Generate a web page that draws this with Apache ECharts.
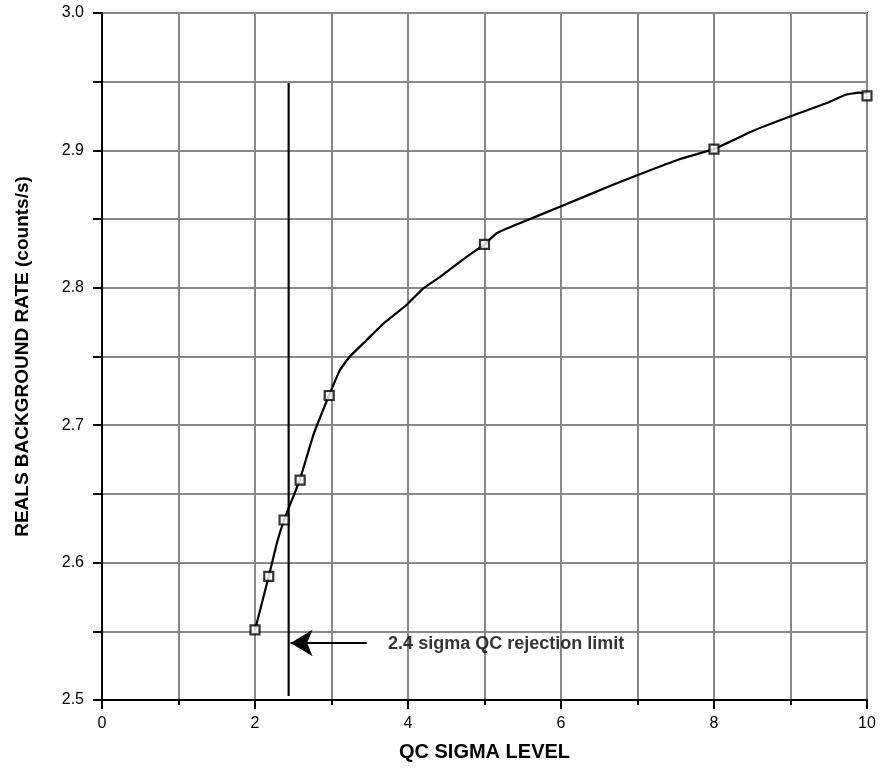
<!DOCTYPE html>
<html>
<head>
<meta charset="utf-8">
<script src="https://cdn.jsdelivr.net/npm/echarts@6/dist/echarts.min.js"></script>
<style>html,body{margin:0;padding:0;background:#fff}#c{width:881px;height:769px}</style>
</head>
<body>
<div id="c"></div>
<script>
// Background-rate curve vs QC sigma level
const curveX = [2.0, 2.18, 2.29, 2.38, 2.5, 2.59, 2.77, 2.97, 3.11, 3.24, 3.46, 3.68, 3.98, 4.2, 4.42, 4.77, 5.0, 5.16, 5.46, 6.01, 6.68, 7.03, 7.55, 8.0, 8.5, 9.01, 9.5, 9.72, 9.9, 10.0];
const curveY = [2.551, 2.590, 2.615, 2.631, 2.648, 2.661, 2.694, 2.722, 2.740, 2.750, 2.762, 2.774, 2.7875, 2.7996, 2.808, 2.8227, 2.8316, 2.8397, 2.847, 2.8595, 2.875, 2.8827, 2.8936, 2.901, 2.914, 2.925, 2.935, 2.9405, 2.942, 2.9415];
// Marked points
const markX = [2.0, 2.18, 2.38, 2.59, 2.97, 5.0, 8.0, 10.0];
const markY = [2.551, 2.590, 2.631, 2.660, 2.7216, 2.8316, 2.9009, 2.9397];
// Rejection limit annotation
const limitX = 2.44;
const limitYRange = [2.503, 2.949];
const arrowY = 2.5415;
const arrowFromX = 3.46;
const arrowToX = 2.465;
const annotText = '2.4 sigma QC rejection limit';
const annotPos = [3.74, 2.5405];

const FONT = '"Liberation Sans", Arial, sans-serif';
const GRID = '#888888';
const chart = echarts.init(document.getElementById('c'));
chart.setOption({
  animation: false,
  backgroundColor: '#fff',
  grid: { left: 102, right: 14, top: 13, bottom: 69, show: true, borderColor: '#000', borderWidth: 2, backgroundColor: 'transparent' },
  xAxis: {
    type: 'value', min: 0, max: 10, interval: 2,
    name: 'QC SIGMA LEVEL', nameLocation: 'middle', nameGap: 42,
    nameTextStyle: { fontFamily: FONT, fontWeight: 'bold', fontSize: 20, color: '#000' },
    axisLine: { show: true, onZero: false, lineStyle: { color: '#000', width: 2 } },
    axisTick: { show: true, inside: false, length: 9, lineStyle: { color: '#000', width: 2 } },
    minorTick: { show: true, splitNumber: 2, length: 5, lineStyle: { color: '#000', width: 2 } },
    axisLabel: { fontFamily: FONT, fontSize: 16, color: '#000', margin: 16 },
    splitLine: { show: true, lineStyle: { color: GRID, width: 2 } },
    minorSplitLine: { show: true, lineStyle: { color: GRID, width: 2 } }
  },
  yAxis: {
    type: 'value', min: 2.5, max: 3.0, interval: 0.1,
    name: 'REALS BACKGROUND RATE (counts/s)', nameLocation: 'middle', nameGap: 70,
    nameTextStyle: { fontFamily: FONT, fontWeight: 'bold', fontSize: 19, color: '#000' },
    axisLine: { show: true, onZero: false, lineStyle: { color: '#000', width: 2 } },
    axisTick: { show: true, inside: false, length: 9, lineStyle: { color: '#000', width: 2 } },
    minorTick: { show: true, splitNumber: 2, length: 9, lineStyle: { color: '#000', width: 2 } },
    axisLabel: { fontFamily: FONT, fontSize: 16, color: '#000', margin: 18, formatter: v => v.toFixed(1) },
    splitLine: { show: true, lineStyle: { color: GRID, width: 2 } },
    minorSplitLine: { show: true, lineStyle: { color: GRID, width: 2 } }
  },
  series: [
    {
      type: 'line', data: curveX.map((x, i) => [x, curveY[i]]),
      smooth: 0.15, showSymbol: false, symbol: 'none',
      lineStyle: { color: '#000', width: 2.2 }, z: 3
    },
    {
      type: 'scatter', data: markX.map((x, i) => [x, markY[i]]),
      symbol: 'rect', symbolSize: 9,
      itemStyle: { color: '#fff', borderColor: '#000', borderWidth: 2.2 }, z: 5
    },
    {
      type: 'line', data: [[limitX, limitYRange[0]], [limitX, limitYRange[1]]],
      symbol: 'none', lineStyle: { color: '#000', width: 2.2 }, z: 4,
      markLine: {
        silent: true, symbol: ['none', 'arrow'], symbolSize: [20, 22],
        lineStyle: { color: '#000', width: 2.2, type: 'solid' },
        label: { show: false },
        data: [[{ coord: [arrowFromX, arrowY] }, { coord: [arrowToX, arrowY] }]]
      }
    },
    {
      type: 'scatter', data: [annotPos], symbolSize: 0, z: 6,
      label: { show: true, position: 'right', distance: 0, formatter: annotText,
        fontFamily: FONT, fontWeight: 'bold', fontSize: 18, color: '#000' }
    }
  ]
});
</script>
</body>
</html>
